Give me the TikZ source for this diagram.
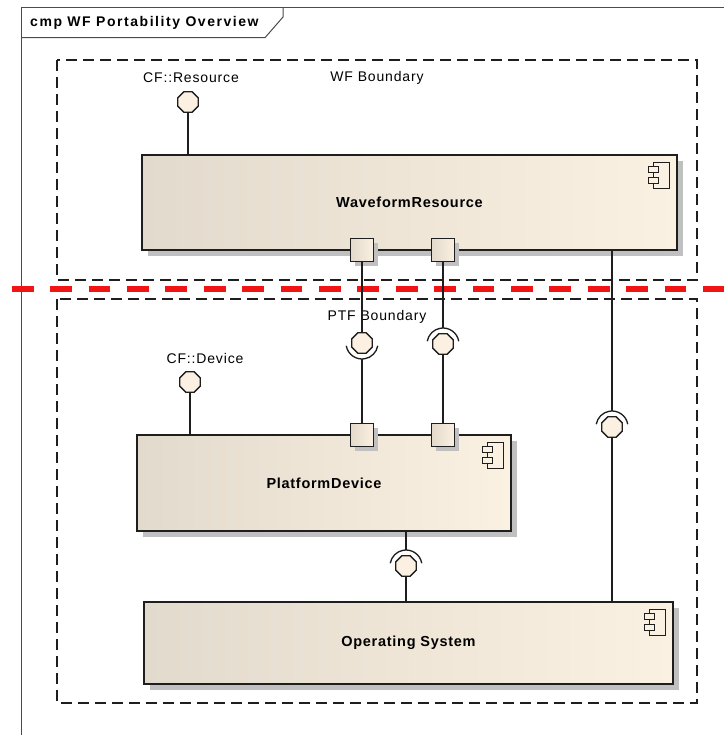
\documentclass[tikz,border=0pt]{standalone}
\usepackage{fontspec}
\setmainfont{Liberation Sans}
\usetikzlibrary{shapes.geometric,shadows}
\definecolor{boxL}{RGB}{226,218,204}
\definecolor{boxR}{RGB}{251,241,227}
\definecolor{ballfill}{RGB}{251,240,226}
\definecolor{ink}{RGB}{30,30,30}
\definecolor{shade}{RGB}{192,192,192}
\definecolor{redline}{RGB}{240,20,20}
\newfontfamily\labfont[LetterSpace=6]{Liberation Sans}
\newfontfamily\boldlab[LetterSpace=5]{Liberation Sans Bold}
\newfontfamily\titlefont[LetterSpace=11]{Liberation Sans Bold}
\tikzset{
  compbox/.style={draw=ink, line width=1.5pt, left color=boxL, right color=boxR,
    drop shadow={shadow xshift=6pt, shadow yshift=-6pt, fill=shade, opacity=1},
    font=\boldlab\fontsize{14.5}{16}\selectfont, inner sep=0pt},
  portbox/.style={draw=ink, line width=1.5pt, left color=boxL, right color=boxR,
    drop shadow={shadow xshift=4pt, shadow yshift=-4pt, fill=shade, opacity=1},
    minimum width=23pt, minimum height=23pt, inner sep=0pt},
  ball/.style={regular polygon, regular polygon sides=8, draw=ink, line width=1.3pt,
    fill=ballfill, minimum size=22pt, inner sep=0pt},
  conn/.style={draw=ink, line width=1.3pt},
  sock/.style={draw=ink, line width=1.3pt},
  boundary/.style={draw=ink, line width=1.2pt, dash pattern=on 11pt off 6pt},
  lab/.style={font=\labfont\fontsize{14}{16}\selectfont, inner sep=0pt, text=black},
  framestyle/.style={draw=ink!80, line width=1pt},
  compicon/.pic={
    \draw[ink, line width=1.3pt, fill=boxR] (-24,8) rectangle (-8,34);
    \draw[ink, line width=1.3pt, fill=boxR] (-29,12) rectangle (-19,18);
    \draw[ink, line width=1.3pt, fill=boxR] (-29,23) rectangle (-19,29);
  }
}
\begin{document}
\begin{tikzpicture}[x=1pt,y=-1pt]
\useasboundingbox (0,0) rectangle (724,735);
\fill[white] (0,0) rectangle (724,735);
% frame
\draw[framestyle] (21,735) -- (21,8) -- (724,8);
\draw[framestyle] (21,37.7) -- (265,37.7) -- (283,17) -- (283,8);
\node[anchor=west, font=\titlefont\fontsize{14}{15}\selectfont, inner sep=0pt] (title) at (30,23) {cmp WF Portability Overview};
% boundaries
\draw[boundary] (57,60) rectangle (697,280);
\draw[boundary] (57,299) rectangle (697,703);
\node[lab] (wfb) at (377,78) {WF Boundary};
\node[lab] (ptfb) at (377,317) {PTF Boundary};
% separator
\draw[redline, line width=6pt, dash pattern=on 21.7pt off 16.7pt, dash phase=26.6pt] (0,289) -- (724,289);
% components
\node[compbox, minimum width=535pt, minimum height=95pt] (wr) at (409.5,202.5) {WaveformResource};
\node[compbox, minimum width=374pt, minimum height=96pt] (pd) at (324,483) {PlatformDevice};
\node[compbox, minimum width=529pt, minimum height=82pt] (os) at (408.5,643) {Operating System};
\pic at (wr.north east) {compicon};
\pic at (pd.north east) {compicon};
\pic at (os.north east) {compicon};
% ports
\node[portbox] (wp1) at (362,250) {};
\node[portbox] (wp2) at (443,250) {};
\node[portbox] (pp1) at (362,435) {};
\node[portbox] (pp2) at (443,435) {};
% provided interfaces (lollipops)
\node[ball] (bres) at (188,102) {};
\node[lab] (lres) at (191,78) {CF::Resource};
\draw[conn] (bres.south) -- (bres |- wr.north);
\node[ball] (bdev) at (190,382) {};
\node[lab] (ldev) at (205,358) {CF::Device};
\draw[conn] (bdev.south) -- (bdev |- pd.north);
% assembly 1 (ball from WaveformResource, socket below)
\node[ball] (b1) at (362,343) {};
\draw[conn] (wp1.south) -- (b1.north);
\draw[sock] ([shift={(190:16pt)}]b1.center) arc[start angle=190, end angle=350, radius=16pt];
\coordinate (s1) at ([yshift=-16pt]b1.center);
\draw[conn] (s1) -- (pp1.north);
% assembly 2 (socket above, ball to PlatformDevice)
\node[ball] (b2) at (443,344) {};
\draw[sock] ([shift={(10:16pt)}]b2.center) arc[start angle=10, end angle=170, radius=16pt];
\coordinate (s2) at ([yshift=16pt]b2.center);
\draw[conn] (wp2.south) -- (s2);
\draw[conn] (b2.south) -- (pp2.north);
% assembly 3 (PlatformDevice to OS)
\node[ball] (b3) at (406,566) {};
\draw[sock] ([shift={(10:16pt)}]b3.center) arc[start angle=10, end angle=170, radius=16pt];
\coordinate (s3) at ([yshift=16pt]b3.center);
\draw[conn] (s3 |- pd.south) -- (s3);
\draw[conn] (b3.south) -- (b3 |- os.north);
% assembly 4 (WaveformResource to OS)
\node[ball] (b4) at (612,427) {};
\draw[sock] ([shift={(10:16pt)}]b4.center) arc[start angle=10, end angle=170, radius=16pt];
\coordinate (s4) at ([yshift=16pt]b4.center);
\draw[conn] (s4 |- wr.south) -- (s4);
\draw[conn] (b4.south) -- (b4 |- os.north);
\end{tikzpicture}
\end{document}
